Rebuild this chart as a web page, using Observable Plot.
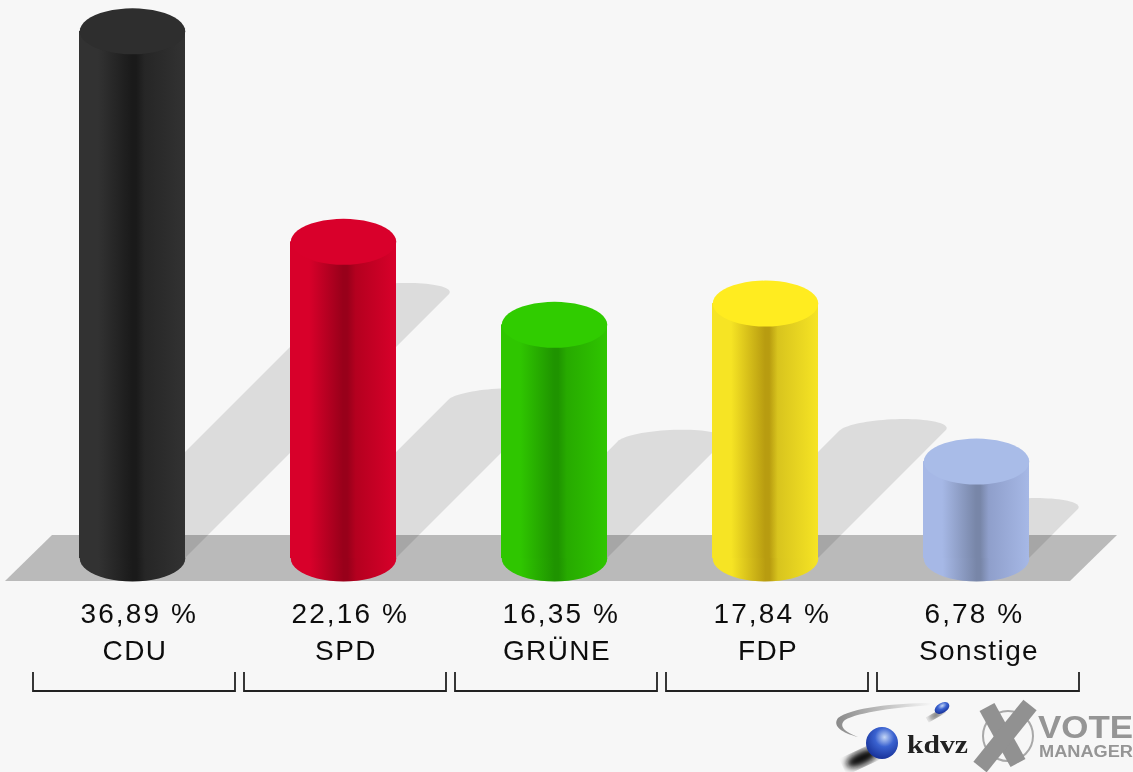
<!DOCTYPE html>
<html>
<head>
<meta charset="utf-8">
<script src="https://cdn.jsdelivr.net/npm/d3@7"></script>
<script src="https://cdn.jsdelivr.net/npm/@observablehq/plot@0.6"></script>
<style>
html,body{margin:0;padding:0;background:#f7f7f7;}
svg{display:block;}
.pct text{letter-spacing:2.1px;}
.name text{letter-spacing:1.4px;}
</style>
</head>
<body>
<div id="chart"></div>
<script>
const parties = ["CDU", "SPD", "GRÜNE", "FDP", "Sonstige"];
const shares = [36.89, 22.16, 16.35, 17.84, 6.78];
const shareLabels = ["36,89 %", "22,16 %", "16,35 %", "17,84 %", "6,78 %"];
const topColors = ["#2e2e2e", "#d9002b", "#30cc00", "#ffec20", "#a9bce8"];
const edgeColors = ["#323232", "#d8002a", "#2fc600", "#f6e424", "#a6b8e6"];
const midColors = ["#262626", "#b4001f", "#27aa00", "#d8c41e", "#8f9fcb"];
const coreColors = ["#1a1a1a", "#98001a", "#1f9400", "#b89c10", "#7886a8"];

const data = parties.map((party, i) => ({party, share: shares[i], label: shareLabels[i], i}));
const capRy = 23;
const font = "'Liberation Sans', Arial, sans-serif";

// Mark that draws a path per party from the library's own x and y scales
function shapes(rows, pathOf, attrs) {
  return Plot.barY(rows, {
    x: "party", y: "share",
    render(index, scales, values, dims, ctx) {
      const g = d3.select(ctx.document.createElementNS("http://www.w3.org/2000/svg", "g"));
      const bw = scales.x.bandwidth();
      index.forEach(i => {
        const d = rows[i];
        const p = g.append("path").attr("d", pathOf({
          d, cx: scales.x(d.party) + bw / 2, rx: bw / 2,
          y0: scales.y(0), yv: scales.y(d.share), step: scales.x.step(), dims
        }));
        Object.entries(attrs).forEach(([k, v]) => p.attr(k, v));
      });
      return g.node();
    }
  });
}

const floorPath = ({d, cx, rx, y0, step}) => {
  const left = cx - rx - 21, right = cx + (parties.length - 1) * step + rx + 41;
  return `M${left - 53},${y0 + capRy}L${left - 6},${y0 - capRy}L${right + 47},${y0 - capRy}L${right},${y0 + capRy}Z`;
};

const shadowPath = ({cx, rx, y0, yv}) => {
  const h = y0 - yv;
  const pts = d3.range(0, 41).map(k => {
    const a = Math.PI - Math.PI * k / 40;
    const t = h + capRy * Math.sin(a);
    return [cx + rx * Math.cos(a) + t / 2, y0 - t / 2];
  });
  return `M${cx - rx},${y0}L` + pts.map(p => p.join(",")).join("L") + `L${cx + rx},${y0}Z`;
};

const bracketPath = ({cx, y0}) => {
  const c = cx + 2, w = 101, a = y0 + 114, b = y0 + 133;
  return `M${c - w},${a}V${b}H${c + w}V${a}`;
};

const ellipse = {
  draw(ctx, size) {
    const rx = Math.sqrt(size / Math.PI), ry = capRy;
    const n = 48;
    for (let k = 0; k <= n; k++) {
      const a = 2 * Math.PI * k / n;
      const x = rx * Math.cos(a), y = ry * Math.sin(a);
      k ? ctx.lineTo(x, y) : ctx.moveTo(x, y);
    }
    ctx.closePath();
  }
};

const textStyle = {fontFamily: font, fontSize: 28, fill: "#111"};

const chart = Plot.plot({
  width: 1133,
  height: 772,
  marginLeft: 26.5,
  marginRight: 51.5,
  marginTop: 0,
  marginBottom: 214,
  style: {background: "#f7f7f7", overflow: "visible"},
  x: {domain: parties, paddingInner: 0.5, paddingOuter: 0.25, axis: null},
  y: {domain: [0, 39.05], axis: null},
  marks: [
    shapes(data.slice(0, 1), floorPath, {fill: "#bababa"}),
    shapes(data, shadowPath, {fill: "#000", "fill-opacity": 0.105}),
    Plot.dot(data, {x: "party", y: () => 0, r: 52.75, symbol: ellipse, fill: d => `url(#side${d.i})`, stroke: "none"}),
    Plot.barY(data, {x: "party", y: "share", fill: d => `url(#side${d.i})`}),
    Plot.dot(data, {x: "party", y: "share", r: 52.75, symbol: ellipse, fill: d => topColors[d.i], stroke: "none"}),
    Plot.text(data, {x: "party", y: () => 0, text: "label", dx: -52, dy: 56, textAnchor: "start", className: "pct", ...textStyle}),
    Plot.text(data, {x: "party", y: () => 0, text: "party", dx: 2.5, dy: 93, className: "name", ...textStyle}),
    shapes(data, bracketPath, {fill: "none", stroke: "#222", "stroke-width": 1.8})
  ]
});

// Horizontal shading of each cylinder: soft to the core on the left, sharper on the right
const root = d3.select(chart);
const defs = root.insert("defs", ":first-child");
parties.forEach((_, i) => {
  const g = defs.append("linearGradient").attr("id", `side${i}`).attr("x1", 0).attr("x2", 1).attr("y1", 0).attr("y2", 0);
  [[0, edgeColors[i]], [0.18, edgeColors[i]], [0.5, coreColors[i]], [0.54, coreColors[i]], [0.62, midColors[i]], [1, edgeColors[i]]]
    .forEach(([o, c]) => g.append("stop").attr("offset", o).attr("stop-color", c));
});
const sw = defs.append("linearGradient").attr("id", "swoosh").attr("x1", 0).attr("x2", 1);
sw.append("stop").attr("offset", 0).attr("stop-color", "#8a8a8a");
sw.append("stop").attr("offset", 1).attr("stop-color", "#f7f7f7");
const ball = defs.append("radialGradient").attr("id", "ball").attr("cx", 0.58).attr("cy", 0.32).attr("r", 0.75);
ball.append("stop").attr("offset", 0).attr("stop-color", "#c4d6f6");
ball.append("stop").attr("offset", 0.4).attr("stop-color", "#3a62d0");
ball.append("stop").attr("offset", 1).attr("stop-color", "#122a90");
defs.append("filter").attr("id", "soft").append("feGaussianBlur").attr("stdDeviation", 3);
defs.append("filter").attr("id", "softText").append("feGaussianBlur").attr("stdDeviation", 0.45);

root.selectAll("text").attr("filter", "url(#softText)");

// Publisher logo, decoration only
const logo = root.append("g").attr("text-anchor", "start").style("text-anchor", "start");
logo.append("path").attr("d", "M932,703C895,703 850,708 838,718C832,726 842,733 858,737C845,732 838,726 845,720C858,712 900,707 932,705Z").attr("fill", "url(#swoosh)");
logo.append("ellipse").attr("cx", 936).attr("cy", 715).attr("rx", 8).attr("ry", 2.5).attr("fill", "#222").attr("transform", "rotate(-30 936 715)").attr("filter", "url(#soft)");
logo.append("ellipse").attr("cx", 942).attr("cy", 708).attr("rx", 8).attr("ry", 5).attr("fill", "url(#ball)").attr("transform", "rotate(-30 942 708)");
logo.append("ellipse").attr("cx", 862).attr("cy", 758).attr("rx", 17).attr("ry", 7).attr("fill", "#111").attr("transform", "rotate(-25 862 758)").attr("filter", "url(#soft)");
logo.append("circle").attr("cx", 882).attr("cy", 743).attr("r", 16).attr("fill", "url(#ball)");
logo.append("text").attr("x", 907).attr("y", 753).attr("font-family", "'Liberation Serif', serif").attr("font-weight", "bold").attr("font-size", 25).attr("textLength", 61).attr("lengthAdjust", "spacingAndGlyphs").attr("fill", "#222").attr("filter", "url(#softText)").text("kdvz");
logo.append("circle").attr("cx", 1008).attr("cy", 736).attr("r", 25).attr("fill", "none").attr("stroke", "#a8a8a8").attr("stroke-width", 2);
logo.append("path").attr("d", "M987,707L1018,763").attr("stroke", "#919191").attr("stroke-width", 17).attr("fill", "none");
logo.append("path").attr("d", "M1030,705L980,767").attr("stroke", "#919191").attr("stroke-width", 17).attr("fill", "none");
logo.append("text").attr("x", 1038).attr("y", 738).attr("font-family", font).attr("font-weight", "bold").attr("font-size", 31).attr("textLength", 95).attr("lengthAdjust", "spacingAndGlyphs").attr("fill", "#959595").attr("filter", "url(#softText)").text("VOTE");
logo.append("text").attr("x", 1039).attr("y", 757).attr("font-family", font).attr("font-weight", "bold").attr("font-size", 16).attr("textLength", 94).attr("lengthAdjust", "spacingAndGlyphs").attr("fill", "#959595").attr("filter", "url(#softText)").text("MANAGER");

document.getElementById("chart").appendChild(chart);
</script>
</body>
</html>
